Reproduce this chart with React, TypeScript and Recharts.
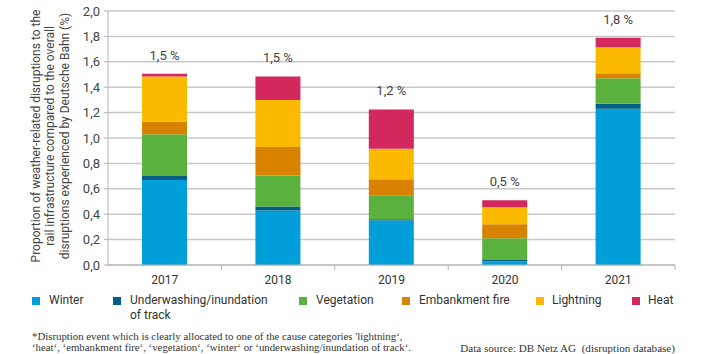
import React from 'react';
import { BarChart, Bar, XAxis, YAxis, CartesianGrid, LabelList } from 'recharts';

const categories = ['2017', '2018', '2019', '2020', '2021'];
const winter = [0.67, 0.43, 0.35, 0.03, 1.23];
const underwashing = [0.03, 0.03, 0.01, 0.01, 0.04];
const vegetation = [0.33, 0.245, 0.19, 0.17, 0.2];
const embankmentFire = [0.1, 0.225, 0.125, 0.11, 0.04];
const lightning = [0.355, 0.37, 0.24, 0.135, 0.205];
const heat = [0.02, 0.185, 0.31, 0.055, 0.075];
const totalLabels = ['1,5 %', '1,5 %', '1,2 %', '0,5 %', '1,8 %'];
const yTicks = [0, 0.2, 0.4, 0.6, 0.8, 1.0, 1.2, 1.4, 1.6, 1.8, 2.0];

const seriesDefs = [
  { key: 'winter', name: 'Winter', values: winter, color: '#009fda' },
  { key: 'underwashing', name: 'Underwashing/inundation\nof track', values: underwashing, color: '#005f85' },
  { key: 'vegetation', name: 'Vegetation', values: vegetation, color: '#5bb13d' },
  { key: 'embankment', name: 'Embankment fire', values: embankmentFire, color: '#d98200' },
  { key: 'lightning', name: 'Lightning', values: lightning, color: '#fbb900' },
  { key: 'heat', name: 'Heat', values: heat, color: '#d2285c' },
];

const data = categories.map((c, i) => {
  const row: any = { year: c, total: totalLabels[i] };
  seriesDefs.forEach((s) => (row[s.key] = s.values[i]));
  return row;
});

const W = 707;
const H = 354;
const M = { top: 11, right: 32, left: 0, bottom: 0 };
const Y_W = 108;
const X_H = 89;
const plotW = W - M.left - M.right - Y_W;
const band = plotW / categories.length;
const axisY = H - M.bottom - X_H;

const FONT = 'Roboto, "Noto Sans", sans-serif';

const XTick = (props: any) => {
  const { x, payload } = props;
  return (
    <g>
      <line x1={x + band / 2} x2={x + band / 2} y1={axisY} y2={axisY + 5} stroke="#b4b4b4" strokeWidth={1} />
      <text x={x} y={axisY + 19} textAnchor="middle" fontSize={12} fill="#333" fontFamily={FONT}>
        {payload.value}
      </text>
    </g>
  );
};

const legendX = [
  { sq: 32, tx: 49 },
  { sq: 113, tx: 130 },
  { sq: 299, tx: 316 },
  { sq: 402, tx: 419 },
  { sq: 536, tx: 552 },
  { sq: 632, tx: 648 },
];

const titleLines = [
  'Proportion of weather-related disruptions to the',
  'rail infrastructure compared to the overall',
  'disruptions experienced by Deutsche Bahn (%)',
];

export default function App() {
  return (
    <div style={{ position: 'absolute', left: 0, top: 0, width: W, height: H, background: '#fff', overflow: 'hidden' }}>
      <BarChart width={W} height={H} data={data} margin={M} barCategoryGap="30%">
        <CartesianGrid vertical={false} stroke="#c8c8c8" strokeWidth={1.5} />
        <XAxis
          dataKey="year"
          height={X_H}
          tickLine={false}
          axisLine={{ stroke: '#b4b4b4' }}
          tick={<XTick />}
          interval={0}
        />
        <YAxis
          width={Y_W}
          domain={[0, 2]}
          ticks={yTicks}
          tickFormatter={(v: number) => v.toFixed(1).replace('.', ',')}
          tick={{ fontSize: 13, fill: '#444', fontFamily: FONT }}
          tickSize={4}
          tickMargin={4}
          tickLine={{ stroke: '#b4b4b4' }}
          axisLine={{ stroke: '#b4b4b4' }}
        />
        {seriesDefs.map((s, idx) => (
          <Bar key={s.key} dataKey={s.key} stackId="a" fill={s.color} isAnimationActive={false}>
            {idx === seriesDefs.length - 1 ? (
              <LabelList
                dataKey="total"
                position="top"
                offset={14}
                style={{ fontSize: 13, fill: '#444', fontFamily: FONT }}
              />
            ) : null}
          </Bar>
        ))}
      </BarChart>

      <svg width={90} height={280} style={{ position: 'absolute', left: 0, top: 0 }}>
        {titleLines.map((t, i) => (
          <text
            key={i}
            transform={`translate(${40 + i * 14.3}, 136) rotate(-90)`}
            textAnchor="middle"
            fontSize={12}
            fill="#444"
            fontFamily={FONT}
          >
            {t}
          </text>
        ))}
      </svg>

      {seriesDefs.map((s, i) => (
        <div key={s.key}>
          <div
            style={{
              position: 'absolute',
              left: legendX[i].sq,
              top: 297,
              width: 8,
              height: 8,
              background: s.color,
            }}
          />
          <div
            style={{
              position: 'absolute',
              left: legendX[i].tx,
              top: 293,
              fontFamily: FONT,
              fontSize: 12,
              lineHeight: '15px',
              color: '#333',
              whiteSpace: 'pre',
            }}
          >
            {s.name}
          </div>
        </div>
      ))}

      <div
        style={{
          position: 'absolute',
          left: 32,
          top: 331,
          fontFamily: '"Liberation Serif", serif',
          fontSize: 10.8,
          lineHeight: '11px',
          color: '#333',
          whiteSpace: 'pre',
        }}
      >
        {"*Disruption event which is clearly allocated to one of the cause categories 'lightning‘,\n‘heat‘, ‘embankment fire‘, ‘vegetation‘, ‘winter‘ or ‘underwashing/inundation of track‘."}
      </div>
      <div
        style={{
          position: 'absolute',
          right: W - 675,
          top: 342,
          fontFamily: '"Liberation Serif", serif',
          fontSize: 11.1,
          lineHeight: '13px',
          color: '#333',
          whiteSpace: 'pre',
        }}
      >
        Data source: DB Netz AG  (disruption database)
      </div>
    </div>
  );
}
